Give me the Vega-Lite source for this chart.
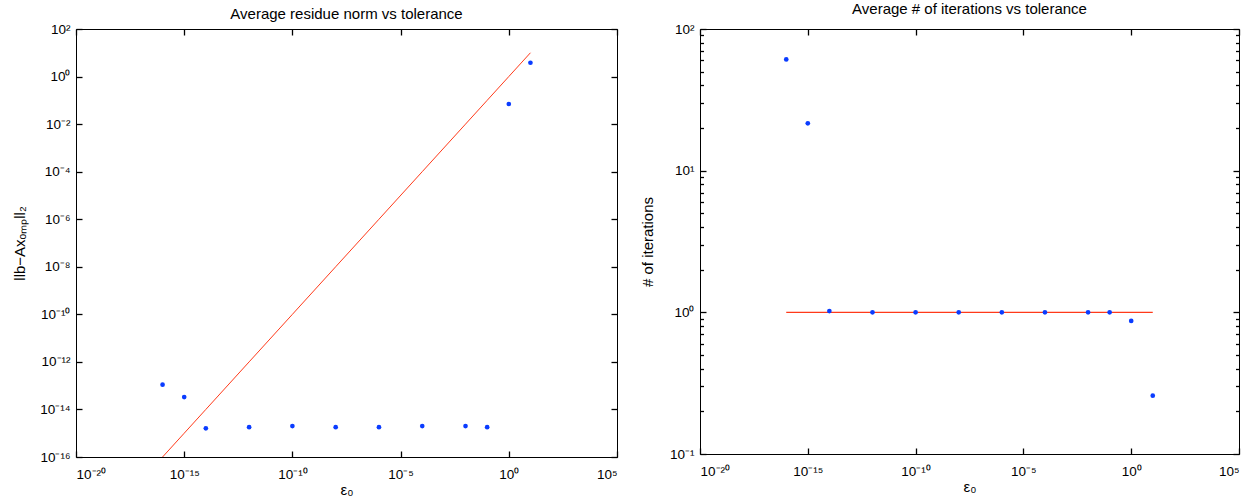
{
  "$schema": "https://vega.github.io/schema/vega-lite/v6.json",
  "padding": {"left": 12, "top": 1, "right": 5, "bottom": 0},
  "background": "white",
  "datasets": {
    "resPts": [
      {"eps": 1e-16, "val": 1.1e-13},
      {"eps": 1e-15, "val": 3.3e-14},
      {"eps": 1e-14, "val": 1.6e-15},
      {"eps": 1e-12, "val": 1.8e-15},
      {"eps": 1e-10, "val": 2.0e-15},
      {"eps": 1e-8, "val": 1.8e-15},
      {"eps": 1e-6, "val": 1.8e-15},
      {"eps": 1e-4, "val": 2.0e-15},
      {"eps": 1e-2, "val": 2.0e-15},
      {"eps": 1e-1, "val": 1.8e-15},
      {"eps": 1, "val": 0.07},
      {"eps": 10, "val": 3.8}
    ],
    "resLine": [
      {"eps": 1e-16, "val": 1e-16},
      {"eps": 1e-15, "val": 1e-15},
      {"eps": 1e-14, "val": 1e-14},
      {"eps": 1e-12, "val": 1e-12},
      {"eps": 1e-10, "val": 1e-10},
      {"eps": 1e-8, "val": 1e-8},
      {"eps": 1e-6, "val": 1e-6},
      {"eps": 1e-4, "val": 1e-4},
      {"eps": 1e-2, "val": 1e-2},
      {"eps": 1e-1, "val": 1e-1},
      {"eps": 1, "val": 1},
      {"eps": 10, "val": 10}
    ],
    "itPts": [
      {"eps": 1e-16, "val": 61},
      {"eps": 1e-15, "val": 21.6},
      {"eps": 1e-14, "val": 1.02},
      {"eps": 1e-12, "val": 1.0},
      {"eps": 1e-10, "val": 1.0},
      {"eps": 1e-8, "val": 1.0},
      {"eps": 1e-6, "val": 1.0},
      {"eps": 1e-4, "val": 1.0},
      {"eps": 1e-2, "val": 1.0},
      {"eps": 1e-1, "val": 1.0},
      {"eps": 1, "val": 0.87},
      {"eps": 10, "val": 0.258}
    ],
    "itLine": [
      {"eps": 1e-16, "val": 1},
      {"eps": 10, "val": 1}
    ]
  },
  "hconcat": [
    {
      "width": 541,
      "height": 428,
      "title": {"text": "Average residue norm vs tolerance", "offset": 0, "frame": "group"},
      "layer": [
        {
          "data": {"name": "resLine"},
          "mark": {"type": "line", "color": "#ff3a1a", "strokeWidth": 1, "clip": true},
          "encoding": {
            "x": {"field": "eps", "type": "quantitative",
                  "scale": {"type": "log", "domain": [1e-20, 1e5], "nice": false},
                  "axis": {"orient": "top", "values": [1e-20, 1e-15, 1e-10, 1e-5, 1, 1e5], "labels": false, "title": null, "tickSize": -6, "domain": false, "zindex": 1}},
            "y": {"field": "val", "type": "quantitative",
                  "scale": {"type": "log", "domain": [1e-16, 100], "nice": false},
                  "axis": {"orient": "right", "values": [1e-16, 1e-14, 1e-12, 1e-10, 1e-8, 1e-6, 1e-4, 1e-2, 1, 100], "labels": false, "title": null, "tickSize": -6, "domain": false, "zindex": 1}}
          }
        },
        {
          "data": {"name": "resPts"},
          "mark": {"type": "circle", "color": "#0a3cff", "opacity": 1, "size": 22},
          "encoding": {
            "x": {"field": "eps", "type": "quantitative",
                  "axis": {"orient": "bottom", "values": [1e-20, 1e-15, 1e-10, 1e-5, 1, 1e5], "tickSize": -6, "labelPadding": 16, "title": "ε₀", "titlePadding": 2, "domain": false, "zindex": 1,
                           "labelExpr": "'10' + replace(replace(replace(replace(replace(replace(replace(replace(replace(''+round(log(datum.value)/LN10), regexp('-','g'), '⁻'), regexp('0','g'), '⁰'), regexp('1','g'), '¹'), regexp('2','g'), '²'), regexp('4','g'), '⁴'), regexp('5','g'), '⁵'), regexp('6','g'), '⁶'), regexp('8','g'), '⁸'), regexp('3','g'), '³')"}},
            "y": {"field": "val", "type": "quantitative",
                  "axis": {"orient": "left", "values": [1e-16, 1e-14, 1e-12, 1e-10, 1e-8, 1e-6, 1e-4, 1e-2, 1, 100], "tickSize": -6, "labelPadding": 12, "title": "llb−Axₒₘₚll₂", "titlePadding": 12, "domain": false, "zindex": 1,
                           "labelExpr": "'10' + replace(replace(replace(replace(replace(replace(replace(replace(replace(''+round(log(datum.value)/LN10), regexp('-','g'), '⁻'), regexp('0','g'), '⁰'), regexp('1','g'), '¹'), regexp('2','g'), '²'), regexp('4','g'), '⁴'), regexp('5','g'), '⁵'), regexp('6','g'), '⁶'), regexp('8','g'), '⁸'), regexp('3','g'), '³')"}}
          }
        }
      ],
      "resolve": {"axis": {"x": "independent", "y": "independent"}}
    },
    {
      "width": 539,
      "height": 425,
      "title": {"text": "Average # of iterations vs tolerance", "offset": 5, "frame": "group"},
      "layer": [
        {
          "data": {"name": "itLine"},
          "mark": {"type": "line", "color": "#ff3a1a", "strokeWidth": 1.4},
          "encoding": {
            "x": {"field": "eps", "type": "quantitative",
                  "scale": {"type": "log", "domain": [1e-20, 1e5], "nice": false},
                  "axis": {"orient": "top", "values": [1e-20, 1e-15, 1e-10, 1e-5, 1, 1e5], "labels": false, "title": null, "tickSize": -6, "domain": false, "zindex": 1}},
            "y": {"field": "val", "type": "quantitative",
                  "scale": {"type": "log", "domain": [0.1, 100], "nice": false},
                  "axis": {"orient": "right", "values": [0.1, 1, 10, 100], "labels": false, "title": null, "tickSize": -6, "domain": false, "zindex": 1}}
          }
        },
        {
          "data": {"name": "itLine"},
          "mark": {"type": "line", "opacity": 0},
          "encoding": {
            "x": {"field": "eps", "type": "quantitative", "axis": null},
            "y": {"field": "val", "type": "quantitative",
                  "axis": {"orient": "right", "values": [0.2,0.3,0.4,0.5,0.6,0.7,0.8,0.9,2,3,4,5,6,7,8,9,20,30,40,50,60,70,80,90], "labels": false, "title": null, "tickSize": -3.5, "domain": false, "zindex": 1}}
          }
        },
        {
          "data": {"name": "itLine"},
          "mark": {"type": "line", "opacity": 0},
          "encoding": {
            "x": {"field": "eps", "type": "quantitative", "axis": null},
            "y": {"field": "val", "type": "quantitative",
                  "axis": {"orient": "left", "values": [0.2,0.3,0.4,0.5,0.6,0.7,0.8,0.9,2,3,4,5,6,7,8,9,20,30,40,50,60,70,80,90], "labels": false, "title": null, "tickSize": -3.5, "domain": false, "zindex": 1}}
          }
        },
        {
          "data": {"name": "itPts"},
          "mark": {"type": "circle", "color": "#0a3cff", "opacity": 1, "size": 22},
          "encoding": {
            "x": {"field": "eps", "type": "quantitative",
                  "axis": {"orient": "bottom", "values": [1e-20, 1e-15, 1e-10, 1e-5, 1, 1e5], "tickSize": -6, "labelPadding": 16, "title": "ε₀", "titlePadding": 2, "domain": false, "zindex": 1,
                           "labelExpr": "'10' + replace(replace(replace(replace(replace(replace(replace(replace(replace(''+round(log(datum.value)/LN10), regexp('-','g'), '⁻'), regexp('0','g'), '⁰'), regexp('1','g'), '¹'), regexp('2','g'), '²'), regexp('4','g'), '⁴'), regexp('5','g'), '⁵'), regexp('6','g'), '⁶'), regexp('8','g'), '⁸'), regexp('3','g'), '³')"}},
            "y": {"field": "val", "type": "quantitative",
                  "axis": {"orient": "left", "values": [0.1, 1, 10, 100], "tickSize": -6, "labelPadding": 12, "title": "# of iterations", "titlePadding": 14, "domain": false, "zindex": 1,
                           "labelExpr": "'10' + replace(replace(replace(replace(''+round(log(datum.value)/LN10), regexp('-','g'), '⁻'), regexp('0','g'), '⁰'), regexp('1','g'), '¹'), regexp('2','g'), '²')"}}
          }
        }
      ],
      "resolve": {"axis": {"x": "independent", "y": "independent"}}
    }
  ],
  "spacing": 20,
  "config": {
    "font": "Liberation Sans",
    "view": {"stroke": "black", "strokeWidth": 1},
    "axis": {"grid": false, "tickColor": "#000000", "labelColor": "black", "titleColor": "black", "labelFont": "Liberation Sans", "titleFont": "Liberation Sans", "labelFontSize": 13.5, "titleFontSize": 15, "titleFontWeight": "normal", "tickWidth": 1.3},
    "title": {"font": "Liberation Sans", "fontSize": 15, "fontWeight": "normal", "color": "black"}
  }
}
